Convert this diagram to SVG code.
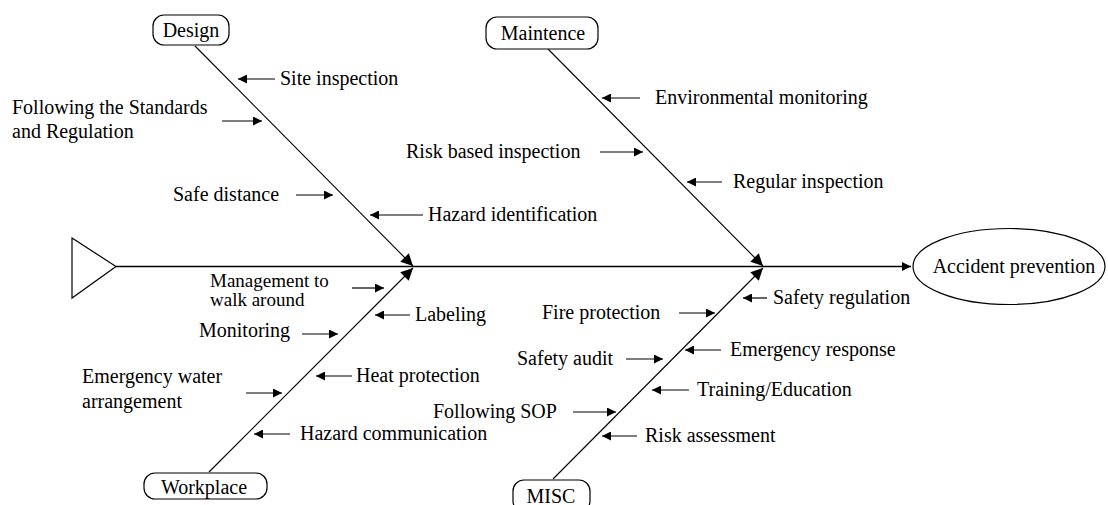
<svg xmlns="http://www.w3.org/2000/svg" width="1108" height="505" viewBox="0 0 1108 505">
<style>
text{font-family:'Liberation Serif','Times New Roman','DejaVu Serif',serif;font-size:20px;fill:#000}
.bone{stroke:#000;stroke-width:1.1;fill:none;marker-end:url(#big)}
.sub{stroke:#000;stroke-width:1.2;fill:none;marker-end:url(#small)}
.box{fill:#fff;stroke:#000;stroke-width:1.2}
.mid{text-anchor:middle}
.tight{font-size:19px}
</style>
<defs>
<marker id="small" viewBox="0 0 10 10" refX="10" refY="5" markerWidth="9" markerHeight="9" markerUnits="userSpaceOnUse" orient="auto"><path d="M0,0 L10,5 L0,10 z" fill="#000"/></marker>
<marker id="big" viewBox="0 0 10 10" refX="10" refY="5" markerWidth="14" markerHeight="12" markerUnits="userSpaceOnUse" orient="auto"><path d="M0,0 L10,5 L0,10 z" fill="#000"/></marker>
</defs>
<rect width="1108" height="505" fill="#fff"/>
<g id="head">
<path d="M72,238 L116,266.5 L72,298 Z" fill="#fff" stroke="#000" stroke-width="1.2"/>
</g>
<g id="connectors">
<line x1="116" y1="266.5" x2="911" y2="266.5" stroke="#000" stroke-width="1.5" marker-end="url(#small)"/>
<line class="bone" x1="195" y1="46" x2="413" y2="266"/>
<line class="bone" x1="548" y1="49" x2="763" y2="266"/>
<line class="bone" x1="209" y1="472" x2="413" y2="268"/>
<line class="bone" x1="553" y1="479" x2="763" y2="268"/>
<line class="sub" x1="275" y1="79" x2="238" y2="79"/>
<line class="sub" x1="222" y1="121" x2="262" y2="121"/>
<line class="sub" x1="296" y1="195" x2="333" y2="195"/>
<line class="sub" x1="423" y1="215" x2="370" y2="215"/>
<line class="sub" x1="640" y1="98" x2="602" y2="98"/>
<line class="sub" x1="600" y1="152" x2="643" y2="152"/>
<line class="sub" x1="722" y1="182" x2="687" y2="182"/>
<line class="sub" x1="352" y1="288" x2="384" y2="288"/>
<line class="sub" x1="410" y1="315" x2="375" y2="315"/>
<line class="sub" x1="302" y1="334" x2="338" y2="334"/>
<line class="sub" x1="352" y1="376" x2="316" y2="376"/>
<line class="sub" x1="246" y1="393" x2="282" y2="393"/>
<line class="sub" x1="290" y1="434" x2="254" y2="434"/>
<line class="sub" x1="767" y1="298" x2="743" y2="298"/>
<line class="sub" x1="679" y1="313" x2="715" y2="313"/>
<line class="sub" x1="721" y1="350" x2="685" y2="350"/>
<line class="sub" x1="626" y1="359" x2="663" y2="359"/>
<line class="sub" x1="689" y1="390" x2="652" y2="390"/>
<line class="sub" x1="573" y1="412" x2="616" y2="412"/>
<line class="sub" x1="637" y1="436" x2="602" y2="436"/>
</g>
<g id="design"><rect class="box" x="153" y="15" width="76" height="30" rx="11"/><text class="mid" x="191" y="37" font-family="Liberation Serif, serif">Design</text></g>
<g id="maintence"><rect class="box" x="486" y="17" width="112" height="32" rx="11"/><text class="mid" x="543" y="40">Maintence</text></g>
<g id="workplace"><rect class="box" x="144" y="473" width="123" height="26" rx="11"/><text class="mid" x="204" y="494">Workplace</text></g>
<g id="misc"><rect class="box" x="513" y="480" width="77" height="32" rx="11"/><text class="mid" x="551" y="503">MISC</text></g>
<g id="effect"><ellipse cx="1009" cy="266.5" rx="96" ry="38" fill="#fff" stroke="#000" stroke-width="1.2"/><text class="mid" x="1014" y="273">Accident prevention</text></g>
<g id="labels">
<text x="280" y="85">Site inspection</text>
<text x="12" y="114">Following the Standards</text>
<text x="12" y="138">and Regulation</text>
<text x="173" y="201">Safe distance</text>
<text x="428" y="221">Hazard identification</text>
<text x="655" y="104">Environmental monitoring</text>
<text x="406" y="158">Risk based inspection</text>
<text x="733" y="188">Regular inspection</text>
<text class="tight" x="210" y="287">Management to</text>
<text class="tight" x="210" y="306">walk around</text>
<text x="415" y="321">Labeling</text>
<text x="199" y="337">Monitoring</text>
<text x="356" y="382">Heat protection</text>
<text x="82" y="383">Emergency water</text>
<text x="82" y="408">arrangement</text>
<text x="300" y="440">Hazard communication</text>
<text x="773" y="304">Safety regulation</text>
<text x="542" y="319">Fire protection</text>
<text x="730" y="356">Emergency response</text>
<text x="517" y="365">Safety audit</text>
<text x="697" y="396">Training/Education</text>
<text x="433" y="418">Following SOP</text>
<text x="645" y="442">Risk assessment</text>
</g>
</svg>
